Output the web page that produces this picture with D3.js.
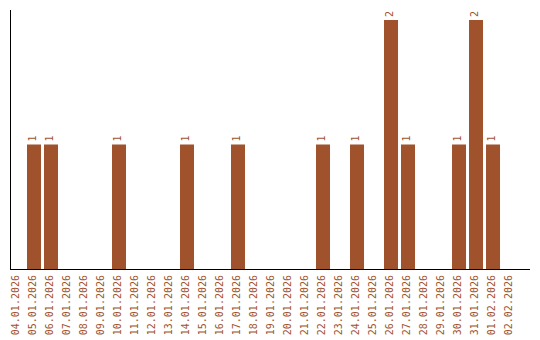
<!DOCTYPE html>
<html>
<head>
<meta charset="utf-8">
<script src="https://cdn.jsdelivr.net/npm/d3@7"></script>
<style>
  html, body { margin: 0; padding: 0; background: #fff; }
  svg { display: block; }
</style>
</head>
<body>
<div id="chart"></div>
<script>
// ── Datos ────────────────────────────────────────────────────────
const DAYS = [
  "04.01.2026", "05.01.2026", "06.01.2026", "07.01.2026", "08.01.2026",
  "09.01.2026", "10.01.2026", "11.01.2026", "12.01.2026", "13.01.2026",
  "14.01.2026", "15.01.2026", "16.01.2026", "17.01.2026", "18.01.2026",
  "19.01.2026", "20.01.2026", "21.01.2026", "22.01.2026", "23.01.2026",
  "24.01.2026", "25.01.2026", "26.01.2026", "27.01.2026", "28.01.2026",
  "29.01.2026", "30.01.2026", "31.01.2026", "01.02.2026", "02.02.2026"
];
const COUNTS = [
  0, 1, 1, 0, 0,
  0, 1, 0, 0, 0,
  1, 0, 0, 1, 0,
  0, 0, 0, 1, 0,
  1, 0, 2, 1, 0,
  0, 1, 2, 1, 0
];

// ── Chart ────────────────────────────────────────────────────────
const W = 540, H = 340;
const COLOR = "#a0522d";
const FONT = "DejaVu Sans Mono, monospace";

const data = DAYS.map((d, i) => ({day: d, n: COUNTS[i]}));

const svg = d3.select("#chart").append("svg")
  .attr("width", W).attr("height", H);

const x = d3.scaleBand()
  .domain(DAYS)
  .range([10, 530])
  .paddingInner(3 / 17)
  .paddingOuter(0.382)
  .align(0);

const y = d3.scaleLinear()
  .domain([0, 2])
  .range([269, 20]);

svg.append("g").selectAll("rect")
  .data(data.filter(d => d.n > 0))
  .join("rect")
  .attr("x", d => x(d.day))
  .attr("y", d => y(d.n))
  .attr("width", x.bandwidth())
  .attr("height", d => y(0) - y(d.n))
  .attr("fill", COLOR);

// etiquetas de valor
svg.append("g").selectAll("text")
  .data(data.filter(d => d.n > 0))
  .join("text")
  .attr("transform", d => `translate(${x(d.day) + x.bandwidth() / 2},${y(d.n) - 3}) rotate(-90)`)
  .attr("dy", "0.15em")
  .attr("text-anchor", "start")
  .attr("fill", COLOR)
  .attr("font-size", 10)
  .attr("font-family", FONT)
  .text(d => d.n);

// etiquetas del eje x
svg.append("g").selectAll("text")
  .data(DAYS)
  .join("text")
  .attr("transform", d => `translate(${x(d) + x.bandwidth() / 2},275) rotate(-90)`)
  .attr("dy", "0.15em")
  .attr("text-anchor", "end")
  .attr("fill", COLOR)
  .attr("font-size", 10)
  .attr("font-family", FONT)
  .text(d => d);

// ejes
svg.append("line")
  .attr("x1", 10.5).attr("x2", 10.5)
  .attr("y1", 10).attr("y2", 270)
  .attr("stroke", "#000").attr("stroke-width", 1);

svg.append("line")
  .attr("x1", 10).attr("x2", 530)
  .attr("y1", 269.5).attr("y2", 269.5)
  .attr("stroke", "#000").attr("stroke-width", 1);
</script>
</body>
</html>
